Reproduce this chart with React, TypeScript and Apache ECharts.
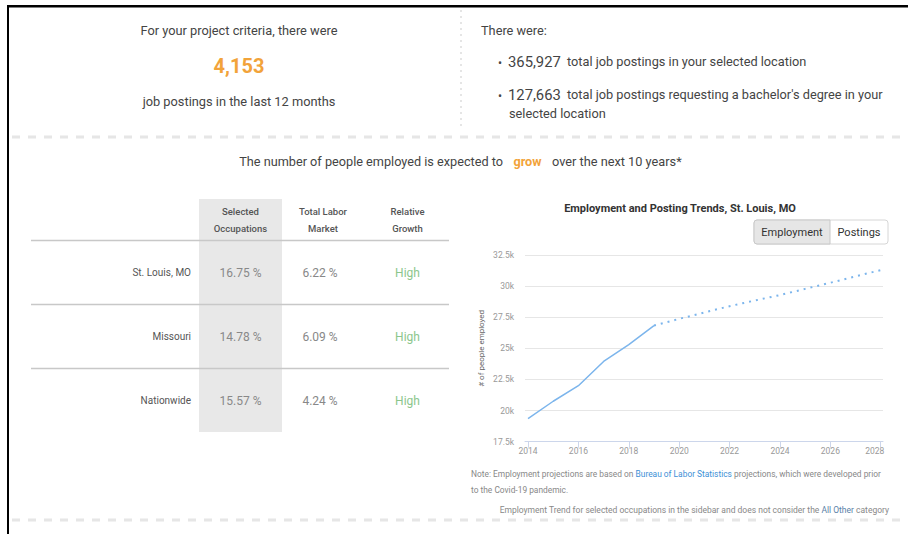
import React, { useEffect, useRef } from 'react';
import * as echarts from 'echarts';

// ---- data ----
const histYears = [2014, 2015, 2016, 2017, 2018, 2019];
const histEmployment = [19350, 20750, 22000, 23950, 25300, 26830];
const projYears = [2019, 2020, 2021, 2022, 2023, 2024, 2025, 2026, 2027, 2028];
const projEmployment = [26830, 27370, 27880, 28390, 28840, 29280, 29780, 30270, 30780, 31290];
const xTickYears = [2014, 2016, 2018, 2020, 2022, 2024, 2026, 2028];

const postingsCriteria = '4,153';
const totalPostings = '365,927';
const bachelorPostings = '127,663';

const regions = ['St. Louis, MO', 'Missouri', 'Nationwide'];
const selectedOccupations = ['16.75 %', '14.78 %', '15.57 %'];
const totalLaborMarket = ['6.22 %', '6.09 %', '4.24 %'];
const relativeGrowth = ['High', 'High', 'High'];

const FONT = 'Roboto, "Noto Sans", sans-serif';
const ORANGE = '#f2a33a';

function txt(text: string, x: number, y: number, size: number, fill: string, align = 'left', weight: any = 'normal', extra: any = {}) {
  return {
    type: 'text',
    silent: true,
    style: {
      text,
      x,
      y,
      fill,
      fontSize: size,
      fontFamily: FONT,
      fontWeight: weight,
      textAlign: align,
      align,
      textVerticalAlign: 'middle',
      verticalAlign: 'middle',
      ...extra,
    },
  };
}

export default function App() {
  const ref = useRef<HTMLDivElement>(null);

  useEffect(() => {
    if (!ref.current) return;
    const chart = echarts.init(ref.current, undefined, { renderer: 'svg' });

    const g: any[] = [];
    // frame
    g.push({ type: 'line', silent: true, shape: { x1: 7, y1: 6.2, x2: 908, y2: 6.2 }, style: { stroke: '#000', lineWidth: 2.5 } });
    g.push({ type: 'line', silent: true, shape: { x1: 8, y1: 5, x2: 8, y2: 534 }, style: { stroke: '#000', lineWidth: 2 } });
    // separators
    g.push({ type: 'line', silent: true, shape: { x1: 12, y1: 137, x2: 908, y2: 137 }, style: { stroke: '#e6e6e6', lineWidth: 3, lineDash: [8, 8] } });
    g.push({ type: 'line', silent: true, shape: { x1: 12, y1: 520, x2: 908, y2: 520 }, style: { stroke: '#e6e6e6', lineWidth: 3, lineDash: [8, 8] } });
    g.push({ type: 'line', silent: true, shape: { x1: 461, y1: 10, x2: 461, y2: 128 }, style: { stroke: '#dddddd', lineWidth: 1.5, lineDash: [2, 4] } });

    // top left
    g.push(txt('For your project criteria, there were', 239, 30, 12.8, '#444', 'center'));
    g.push(txt(postingsCriteria, 239, 66, 20, ORANGE, 'center', 'bold'));
    g.push(txt('job postings in the last 12 months', 239, 101, 12.8, '#444', 'center'));

    // top right
    g.push(txt('There were:', 481, 30, 12.75, '#444'));
    g.push(txt('•', 498, 63, 12, '#444'));
    g.push(txt(totalPostings, 508, 62, 14.8, '#444'));
    g.push(txt('total job postings in your selected location', 567, 61, 12.75, '#444'));
    g.push(txt('•', 498, 96, 12, '#444'));
    g.push(txt(bachelorPostings, 508, 95, 14.8, '#444'));
    g.push(txt("total job postings requesting a bachelor's degree in your", 567, 94, 12.75, '#444'));
    g.push(txt('selected location', 509, 113, 12.75, '#444'));

    // middle sentence
    g.push(txt('The number of people employed is expected to', 503, 161, 12.7, '#444', 'right'));
    g.push(txt('grow', 527.5, 161, 12.7, ORANGE, 'center', 'bold'));
    g.push(txt('over the next 10 years*', 552, 161, 12.75, '#444', 'left'));

    // table
    g.push({ type: 'rect', silent: true, shape: { x: 199, y: 199, width: 83, height: 233 }, style: { fill: '#e8e8e8' } });
    const colX = [240.5, 323, 407.5];
    g.push(txt('Selected', colX[0], 211, 9.5, '#555', 'center', 500));
    g.push(txt('Occupations', colX[0], 228, 9.5, '#555', 'center', 500));
    g.push(txt('Total Labor', colX[1], 211, 9.5, '#555', 'center', 500));
    g.push(txt('Market', colX[1], 228, 9.5, '#555', 'center', 500));
    g.push(txt('Relative', colX[2], 211, 9.5, '#555', 'center', 500));
    g.push(txt('Growth', colX[2], 228, 9.5, '#555', 'center', 500));
    const lineYs = [240.5, 304.5, 368.5];
    const rowYs = [272.5, 336.5, 400.5];
    regions.forEach((r, i) => {
      g.push({ type: 'line', silent: true, shape: { x1: 31, y1: lineYs[i], x2: 449, y2: lineYs[i] }, style: { stroke: '#c8c8c8', lineWidth: 1.5 } });
      g.push(txt(r, 191, rowYs[i], 10, '#555', 'right'));
      g.push(txt(selectedOccupations[i], colX[0], rowYs[i], 12, '#888', 'center'));
      g.push(txt(totalLaborMarket[i], 320, rowYs[i], 12, '#888', 'center'));
      g.push(txt(relativeGrowth[i], colX[2], rowYs[i], 12, '#8cc68c', 'center'));
    });

    // chart title and buttons
    g.push(txt('Employment and Posting Trends, St. Louis, MO', 680, 208, 11, '#333', 'center', 'bold'));
    g.push({ type: 'rect', silent: true, shape: { x: 754, y: 220, width: 134, height: 24, r: 3 }, style: { fill: '#fff', stroke: '#d6d6d6', lineWidth: 1 } });
    g.push({ type: 'rect', silent: true, shape: { x: 754, y: 220, width: 76, height: 24, r: [3, 0, 0, 3] }, style: { fill: '#e6e6e6', stroke: '#c8c8c8', lineWidth: 1 } });
    g.push(txt('Employment', 792, 232, 11, '#333', 'center'));
    g.push(txt('Postings', 859, 232, 11, '#333', 'center'));

    // notes
    g.push({
      type: 'text',
      silent: true,
      style: {
        text: '{g|Note: Employment projections are based on }{b|Bureau of Labor Statistics}{g| projections, which were developed prior}',
        x: 471,
        y: 474,
        textVerticalAlign: 'middle',
        verticalAlign: 'middle',
        fontFamily: FONT,
        fontSize: 8.4,
        rich: {
          g: { fill: '#888', color: '#888', fontSize: 8.4, fontFamily: FONT },
          b: { fill: '#3d8fd6', color: '#3d8fd6', fontSize: 8.4, fontFamily: FONT },
        },
      },
    });
    g.push(txt('to the Covid-19 pandemic.', 471, 490, 8.4, '#888'));
    g.push({
      type: 'text',
      silent: true,
      style: {
        text: '{g|Employment Trend for selected occupations in the sidebar and does not consider the }{d|All Other}{g| category}',
        x: 889,
        y: 510,
        textAlign: 'right',
        align: 'right',
        textVerticalAlign: 'middle',
        verticalAlign: 'middle',
        fontFamily: FONT,
        fontSize: 8.5,
        rich: {
          g: { fill: '#888', color: '#888', fontSize: 8.5, fontFamily: FONT },
          d: { fill: '#5a7fa8', color: '#5a7fa8', fontSize: 8.5, fontFamily: FONT },
        },
      },
    });

    const option: any = {
      animation: false,
      graphic: { elements: g },
      grid: { left: 525, right: 25, top: 255, bottom: 92.3, containLabel: false, outerBoundsMode: 'none' },
      xAxis: {
        type: 'value',
        min: 2013.88,
        max: 2028.09,
        splitLine: { show: false },
        axisLine: { lineStyle: { color: '#ccd6eb', width: 1 } },
        axisTick: { show: true, length: 6, customValues: xTickYears, lineStyle: { color: '#ccd6eb' } },
        axisLabel: {
          customValues: xTickYears,
          color: '#999',
          fontSize: 8.5,
          fontFamily: FONT,
          margin: 5,
          formatter: (v: number) => (v === 2028 ? '{r|' + v + '}' : String(v)),
          rich: { r: { color: '#999', fontSize: 8.5, fontFamily: FONT, padding: [0, 12, 0, 0] } },
        },
      },
      yAxis: {
        type: 'value',
        min: 17500,
        max: 32500,
        interval: 2500,
        name: '# of people employed',
        nameLocation: 'middle',
        nameRotate: 90,
        nameGap: 40,
        nameTextStyle: { color: '#666', fontSize: 8, fontFamily: FONT },
        axisLine: { show: false },
        axisTick: { show: false },
        splitLine: { lineStyle: { color: '#e6e6e6', width: 1 } },
        axisLabel: { color: '#999', fontSize: 8.5, fontFamily: FONT, margin: 11, formatter: (v: number) => v / 1000 + 'k' },
      },
      series: [
        {
          type: 'line',
          data: histYears.map((y, i) => [y, histEmployment[i]]),
          showSymbol: false,
          symbol: 'none',
          lineStyle: { color: '#7cb5ec', width: 1.5 },
        },
        {
          type: 'line',
          data: projYears.map((y, i) => [y, projEmployment[i]]),
          showSymbol: false,
          symbol: 'none',
          lineStyle: { color: '#7cb5ec', width: 2, type: [2, 5] },
        },
      ],
    };
    chart.setOption(option);
    return () => chart.dispose();
  }, []);

  return <div ref={ref} style={{ position: 'absolute', left: 0, top: 0, width: 908, height: 534, background: '#fff' }} />;
}
